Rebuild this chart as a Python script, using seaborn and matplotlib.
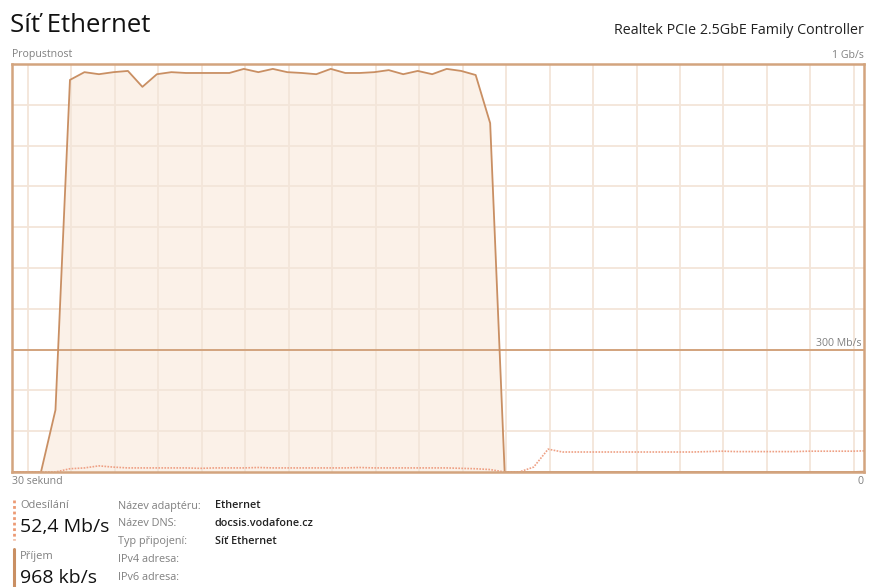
import numpy as np
import pandas as pd
import seaborn as sns
import matplotlib.pyplot as plt

# Samples every 0.5 s, index 0 = left edge of the 30 second window
receive_mbps = [0, 0, 0, 152, 961, 980, 975, 980, 983, 944,
                975, 980, 978, 978, 978, 978, 988, 980, 988, 980,
                978, 975, 988, 978, 978, 980, 985, 975, 983, 975,
                988, 983, 973, 855, 0, 0, 0, 0, 0, 0,
                0, 0, 0, 0, 0, 0, 0, 0, 0, 0,
                0, 0, 0, 0, 0, 0, 0, 0, 0, 1]
send_mbps = [0, 0, 0, 0, 8, 10, 15, 12, 10, 10,
             10, 10, 10, 9, 10, 10, 10, 11, 10, 10,
             10, 10, 10, 10, 11, 10, 10, 10, 10, 10,
             10, 9, 8, 6, 0, 0, 12, 56, 49, 49,
             49, 49, 49, 49, 49, 49, 49, 49, 50, 51,
             50, 50, 50, 50, 50, 51, 51, 51, 51, 52]
samples = np.arange(len(receive_mbps))

df = pd.DataFrame({"sample": samples, "receive": receive_mbps, "send": send_mbps})

info_labels = ["Název adaptéru:", "Název DNS:", "Typ připojení:", "IPv4 adresa:", "IPv6 adresa:"]
info_values = ["Ethernet", "docsis.vodafone.cz", "Síť Ethernet"]

line_col = "#c98f63"
fill_col = "#fbf1e8"
grid_col = "#f3e5d9"
border_col = "#d3a47e"
send_col = "#eea084"
gray = "#808080"

sns.set_style("white")
plt.rcParams["font.family"] = ["Open Sans", "DejaVu Sans"]

fig = plt.figure(figsize=(8.7, 5.87), dpi=100)
ax = fig.add_axes([12 / 870, 1 - 472 / 587, 852 / 870, 408 / 587])

ax.fill_between(df["sample"], df["receive"], color=fill_col, lw=0, zorder=1)
sns.lineplot(data=df, x="sample", y="receive", ax=ax, color=line_col, lw=1.3, zorder=4)
sns.lineplot(data=df, x="sample", y="send", ax=ax, color=send_col, lw=1.2,
             linestyle=(0, (1, 0.8)), zorder=4)

ax.set_xlim(0, 58.8)
ax.set_ylim(0, 1000)
ax.set_xticks(np.arange(1.1, 58.8, 3))
ax.set_yticks(np.arange(100, 1000, 100))
ax.grid(True, color=grid_col, lw=1.3, zorder=2)
ax.set_axisbelow(False)
ax.tick_params(length=0, labelbottom=False, labelleft=False)
ax.set_xlabel("")
ax.set_ylabel("")
ax.axhline(300, color=border_col, lw=1.4, zorder=3)
for s in ax.spines.values():
    s.set_color(border_col)
    s.set_linewidth(1.8)
    s.set_zorder(5)

# texts around the graph
fig.text(10 / 870, 1 - 26 / 587, "Síť Ethernet", fontsize=18.5, va="center", color="#111111")
fig.text(864 / 870, 1 - 31 / 587, "Realtek PCIe 2.5GbE Family Controller", fontsize=10.3,
         ha="right", va="center", color="#222222")
fig.text(12 / 870, 1 - 55 / 587, "Propustnost", fontsize=7.6, va="center", color=gray)
fig.text(864 / 870, 1 - 55 / 587, "1 Gb/s", fontsize=7.6, va="center", ha="right", color=gray)
ax.text(0.997, 302, "300 Mb/s", transform=ax.get_yaxis_transform(), fontsize=7.6,
        ha="right", va="bottom", color=gray, zorder=6)
fig.text(12 / 870, 1 - 482 / 587, "30 sekund", fontsize=7.6, va="center", color=gray)
fig.text(864 / 870, 1 - 482 / 587, "0", fontsize=7.6, va="center", ha="right", color=gray)

# legend-like block
fig.add_artist(plt.Line2D([14 / 870, 14 / 870], [1 - 500 / 587, 1 - 540 / 587],
                          color="#ec9a74", lw=2, linestyle=(0, (1, 1))))
fig.add_artist(plt.Line2D([14 / 870, 14 / 870], [1 - 549 / 587, 1 - 587 / 587],
                          color=line_col, lw=2.2))
fig.text(20 / 870, 1 - 506 / 587, "Odesílání", fontsize=8, va="center", color=gray)
fig.text(20 / 870, 1 - 527 / 587, "52,4 Mb/s", fontsize=14, va="center", color="#111111")
fig.text(20 / 870, 1 - 556 / 587, "Příjem", fontsize=8, va="center", color=gray)
fig.text(20 / 870, 1 - 578 / 587, "968 kb/s", fontsize=14, va="center", color="#111111")

for k, lab in enumerate(info_labels):
    fig.text(118 / 870, 1 - (506 + 17.8 * k) / 587, lab, fontsize=7.8, va="center", color=gray)
for k, val in enumerate(info_values):
    fig.text(215 / 870, 1 - (506 + 17.8 * k) / 587, val, fontsize=7.8, va="center",
             color="#222222", fontweight="semibold")

fig.savefig("out.png", dpi=100)
